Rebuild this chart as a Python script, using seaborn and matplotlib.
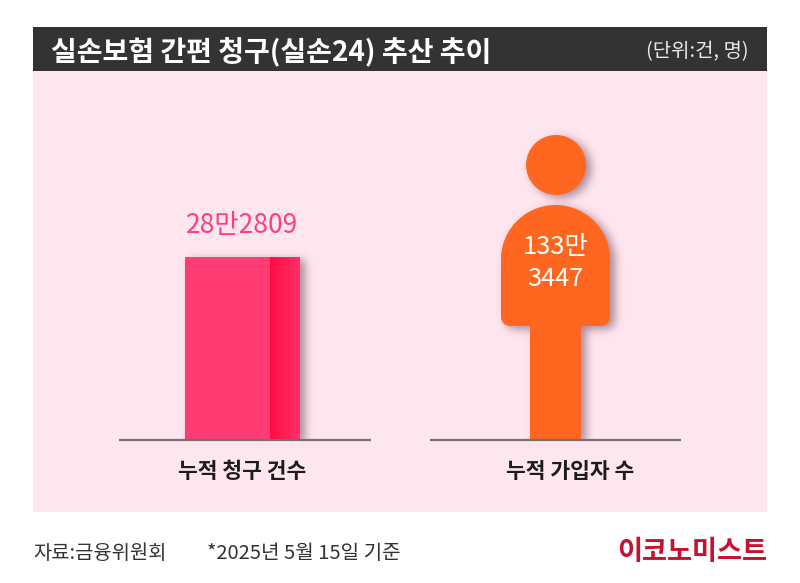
import numpy as np
import pandas as pd
import matplotlib
matplotlib.use("Agg")
import matplotlib.pyplot as plt
import seaborn as sns
from matplotlib.colors import LinearSegmentedColormap, to_rgb
from matplotlib.patches import PathPatch, Rectangle
from matplotlib.path import Path
from matplotlib.transforms import Affine2D

TITLE = "실손보험 간편 청구(실손24) 추산 추이"
UNIT = "(단위:건, 명)"
SOURCE = "자료:금융위원회"
NOTE = "*2025년 5월 15일 기준"
BRAND = "이코노미스트"

categories = ["누적 청구 건수", "누적 가입자 수"]
claims = [282809]
claims_label = "28만2809"
members_label = "133만\n3447"

sns.set_theme(style="white")
plt.rcParams["font.family"] = ["Noto Sans CJK KR", "DejaVu Sans"]

PINK = "#ff3d74"
ORANGE = "#ff6720"
SHADOW = "#5a2a3c"
INK = "#1c1c1c"

fig = plt.figure(figsize=(8, 5.83), dpi=100, facecolor="white")

# background layer in pixel coordinates
bg = fig.add_axes([0, 0, 1, 1], zorder=0)
bg.add_patch(Rectangle((33, 71), 734, 441, color="#fee6ef", lw=0))
bg.add_patch(Rectangle((33, 27), 734, 44, color="#333333", lw=0))
bg.text(51, 49.5, TITLE, color="white", fontsize=20.2, fontweight="bold", va="center_baseline")
bg.text(749, 49.5, UNIT, color="#e8e8e8", fontsize=14.4, ha="right", va="center_baseline")
bg.text(33, 551, SOURCE, color="#333333", fontsize=14.3, va="center_baseline")
bg.text(207, 551, NOTE, color="#333333", fontsize=14.5, va="center_baseline")
bg.text(767, 549, BRAND, color="#c4122f", fontsize=19.6, fontweight="black", ha="right", va="center_baseline")

# chart layer, the baseline of the axes sits at y=440px
ax = fig.add_axes([86 / 800, (583 - 440) / 583, 626 / 800, (440 - 71) / 583], zorder=1)
ax.patch.set_alpha(0)
df = pd.DataFrame({"category": categories[:1], "value": claims})
sns.barplot(data=df, x="category", y="value", order=categories, color=PINK, saturation=1,
            width=0.367, linewidth=0, ax=ax, zorder=3)
ax.set_xlim(-0.5, 1.5)
ax.set_ylim(0, claims[0] * (440 - 71) / 183)
ax.set_yticks([])
ax.set_xlabel("")
ax.set_ylabel("")
sns.despine(ax=ax, left=True, bottom=True)
# the second label sits a bit right of the person in the original
ax.set_xticks([0, 1.048], categories)
ax.tick_params(axis="x", length=0, pad=15)
for lab in ax.get_xticklabels():
    lab.set_fontsize(15.5)
    lab.set_fontweight("bold")
    lab.set_color(INK)
ax.hlines([0, 0], [-0.393, 0.6], [0.409, 1.4], color="#7d6a72", lw=1.6, zorder=5, clip_on=False)

# bar with its darker side face
bar = ax.patches[0]
x0, w, h = bar.get_x(), bar.get_width(), bar.get_height()
bar_px = ax.transData.transform([(x0, 0), (x0 + w, h)])
side = LinearSegmentedColormap.from_list("side", ["#ff0d42", "#ff3068"])
ax.imshow(np.linspace(0, 1, 64).reshape(1, -1), cmap=side, aspect="auto", zorder=4,
          extent=(x0 + w * 0.739, x0 + w, 0, h))
ax.set_xlim(-0.5, 1.5)
ax.set_ylim(0, claims[0] * (440 - 71) / 183)
ax.annotate(claims_label, (x0 + w / 2, h), xytext=(0, 25), textcoords="offset points",
            color="#ff3f7c", fontsize=19, fontweight="medium",
            ha="center", va="center_baseline", zorder=6)

# person pictogram, offsets are px from the foot of category 2
foot = ax.transData.transform((1, 0))
to_foot = Affine2D().translate(*foot)
M, L, C, Z = Path.MOVETO, Path.LINETO, Path.CURVE4, Path.CLOSEPOLY
K = 0.5523
body_r, body_hw, leg_hw, corner = 54, 54.5, 25.5, 9
verts = [(-leg_hw, 0), (-leg_hw, 114), (-body_hw + corner, 114)]
codes = [M, L, L]
verts += [(-body_hw + corner * (1 - K), 114), (-body_hw, 114 + corner * (1 - K)), (-body_hw, 114 + corner)]
codes += [C, C, C]
verts += [(-body_hw, 235 - body_r)]
codes += [L]
verts += [(-body_hw, 235 - body_r * (1 - K)), (-body_r * K, 235), (0, 235)]
codes += [C, C, C]
verts += [(body_r * K, 235), (body_hw, 235 - body_r * (1 - K)), (body_hw, 235 - body_r)]
codes += [C, C, C]
verts += [(body_hw, 114 + corner)]
codes += [L]
verts += [(body_hw, 114 + corner * (1 - K)), (body_hw - corner * (1 - K), 114), (body_hw - corner, 114)]
codes += [C, C, C]
verts += [(leg_hw, 114), (leg_hw, 0), (-leg_hw, 0)]
codes += [L, L, Z]
body = Path(verts, codes)
head = Path.circle((0.5, 275), 30)
for shape in (head, body):
    ax.add_patch(PathPatch(shape, facecolor=ORANGE, edgecolor="none", transform=to_foot, zorder=4))
ax.text(0, 0, members_label, color="white", fontsize=18.3, fontweight="medium", ha="center", va="center",
        linespacing=1.3, transform=Affine2D().translate(0, 177) + to_foot, zorder=6)


def blurred_shadow(paths, dx=5, dy=3, sigma=4.5, strength=0.5):
    # blur a mask of the shapes, cut it off at the baseline
    xx, yy = np.meshgrid(np.arange(800) + 0.5, 583 - np.arange(583) - 0.5)
    pts = np.column_stack([xx.ravel() - dx, yy.ravel() + dy])
    mask = np.zeros(xx.shape)
    for p in paths:
        mask[p.contains_points(pts).reshape(xx.shape)] = 1.0
    t = np.arange(-15, 16)
    kernel = np.exp(-t ** 2 / (2 * sigma ** 2))
    kernel /= kernel.sum()
    for axis in (0, 1):
        mask = np.apply_along_axis(np.convolve, axis, mask, kernel, mode="same")
    mask[yy < foot[1]] = 0
    rgba = np.zeros(xx.shape + (4,))
    rgba[..., :3] = to_rgb(SHADOW)
    rgba[..., 3] = mask * strength
    return rgba


bar_path = Affine2D().scale(*(bar_px[1] - bar_px[0])).translate(*bar_px[0]).transform_path(Path.unit_rectangle())
rgba = blurred_shadow([bar_path, to_foot.transform_path(body), to_foot.transform_path(head)])
bg.imshow(rgba, extent=(0, 800, 583, 0), aspect="auto", zorder=1.5)
bg.set_xlim(0, 800)
bg.set_ylim(583, 0)
bg.axis("off")

fig.savefig("out.png", dpi=100)
plt.close(fig)
